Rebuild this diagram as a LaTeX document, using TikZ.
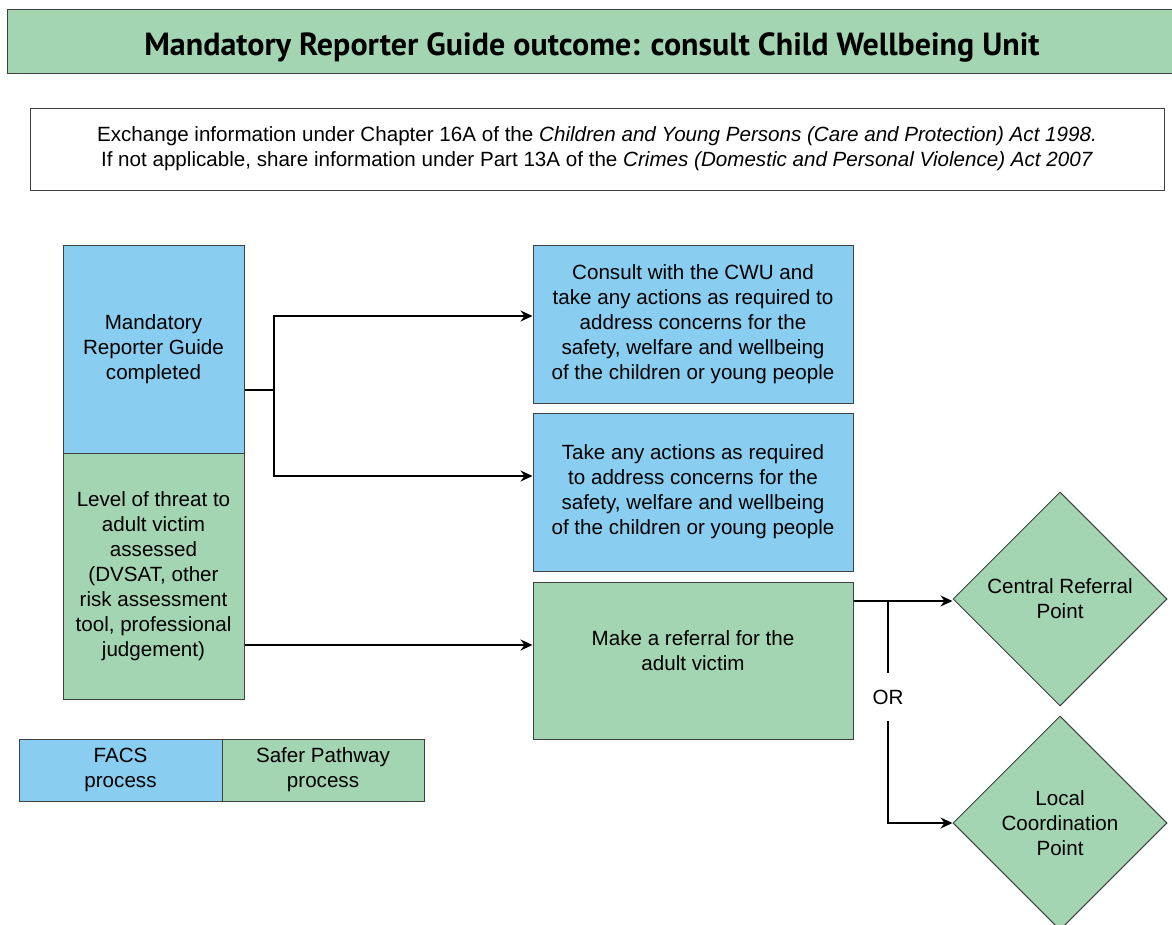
\documentclass[tikz,border=0pt]{standalone}
\usepackage{fontspec}
\setmainfont{Liberation Sans}
\newfontfamily\headfont{PT Sans}
\usetikzlibrary{shapes.geometric,arrows.meta}
\definecolor{facsblue}{RGB}{137,206,240}
\definecolor{safergreen}{RGB}{163,213,179}

\begin{document}
\begin{tikzpicture}[x=1pt, y=-1pt,
  every node/.style={font=\fontsize{20.6}{25}\selectfont, align=center, inner sep=0pt},
  box/.style 2 args={rectangle, draw=black!75, line width=1pt, minimum width=#1, minimum height=#2},
  facs/.style={fill=facsblue},
  safer/.style={fill=safergreen},
  decision/.style={diamond, aspect=1, draw=black!75, line width=1pt, fill=safergreen, minimum width=214, minimum height=214},
  link/.style={line width=1.3pt},
  arrow/.style={link, -{Stealth[length=12pt, width=11pt]}}]
  \useasboundingbox (0,0) rectangle (1172,924);
  \node (title) [box={1170}{64}, safer, text height=36pt, text depth=8pt, font=\headfont\bfseries\fontsize{32}{36}\selectfont] at (592,41)
    {Mandatory Reporter Guide outcome: consult Child Wellbeing Unit};
  \node (info) [box={1134}{82}, fill=white] at (597,149)
    {Exchange information under Chapter 16A of the \textit{Children and Young Persons (Care and Protection) Act 1998.}\\
     If not applicable, share information under Part 13A of the \textit{Crimes (Domestic and Personal Violence) Act 2007}};

  \node (mrg) [box={181}{208}, facs] at (153.5,349) {Mandatory\\Reporter Guide\\completed};
  \node (threat) [box={181}{246}, safer] at (153.5,576)
    {Level of threat to\\adult victim\\assessed\\(DVSAT, other\\risk assessment\\tool, professional\\judgement)};

  \node (consult) [box={320}{158}, facs] at (693,324)
    {Consult with the CWU and\\take any actions as required to\\address concerns for the\\safety, welfare and wellbeing\\of the children or young people};
  \node (actions) [box={320}{158}, facs] at (693,492)
    {Take any actions as required\\to address concerns for the\\safety, welfare and wellbeing\\of the children or young people};
  \node (referral) [box={320}{157}, safer] at (693,660.5) {Make a referral for the\\adult victim\\[-6pt]};

  \node (crp) [decision] at (1060,599) {Central Referral\\Point};
  \node (lcp) [decision] at (1060,823) {Local\\Coordination\\Point};

  \node (legfacs) [box={203}{62}, facs] at (120.5,770) {FACS\\process};
  \node (legsafer) [box={202}{62}, safer] at (323,770) {Safer Pathway\\process};

  \coordinate (fork) at (274,390);
  \draw[link] (mrg.east |- fork) -- (fork);
  \draw[arrow] (fork) |- ([yshift=8pt]consult.west);
  \draw[arrow] (fork) |- ([yshift=16pt]actions.west);
  \draw[arrow] ([yshift=-69pt]threat.east) coordinate (t) -- (t -| referral.west);

  \draw[arrow] ([yshift=59.5pt]referral.east) coordinate (r) -- (r -| crp.west);
  \coordinate (orsplit) at (888,601);
  \node (or) [minimum height=47] at (888,697) {OR};
  \draw[link] (orsplit) -- (or.north);
  \draw[arrow] (or.south) |- (lcp.west);
\end{tikzpicture}
\end{document}
